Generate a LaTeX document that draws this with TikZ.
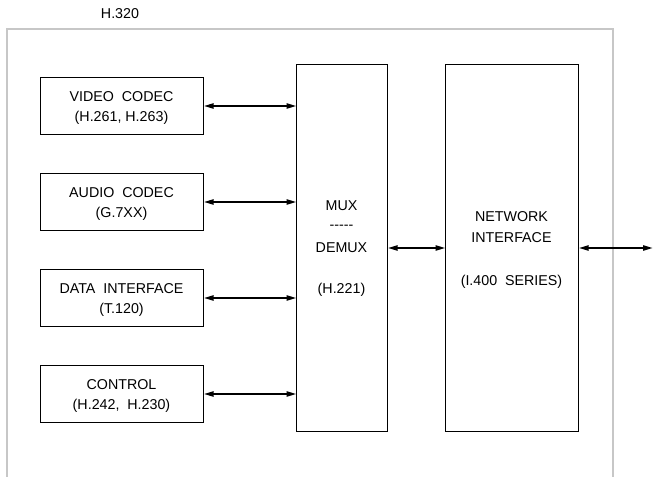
\documentclass[tikz,border=0pt]{standalone}
\usepackage{fontspec}
\setmainfont{Liberation Sans}
\usetikzlibrary{arrows.meta}
\begin{document}
\begin{tikzpicture}[x=0.75pt,y=-0.75pt,
  blk/.style={draw=black,line width=0.9pt,inner sep=0pt,anchor=north west},
  lbl/.style={font=\fontsize{10.7}{12}\selectfont,inner sep=0pt},
  conn/.style={line width=0.9pt,{Triangle[length=7pt,width=4pt]}-{Triangle[length=7pt,width=4pt]}}]
\useasboundingbox (0,0) rectangle (653,477);
\fill[white] (0,0) rectangle (653,477);
\draw[draw=black!22,line width=0.8pt] (7,477) -- (7,29) -- (613,29) -- (613,477);
\node[lbl] (title) at (120,14) {H.320};
% left boxes
\node[blk,minimum width=163*0.75pt,minimum height=57*0.75pt] (video) at (40,77) {};
\node[blk,minimum width=163*0.75pt,minimum height=57*0.75pt] (audio) at (40,173) {};
\node[blk,minimum width=163*0.75pt,minimum height=57*0.75pt] (data) at (40,269) {};
\node[blk,minimum width=163*0.75pt,minimum height=57*0.75pt] (ctrl) at (40,365) {};
\node[lbl] (v1) at (121.5,97) {VIDEO\ \ CODEC};
\node[lbl] (v2) at (121.5,118) {(H.261, H.263)};
\node[lbl] (a1) at (121.5,193) {AUDIO\ \ CODEC};
\node[lbl] (a2) at (121.5,214) {(G.7XX)};
\node[lbl] (d1) at (121.5,289) {DATA\ \ INTERFACE};
\node[lbl] (d2) at (121.5,310) {(T.120)};
\node[lbl] (c1) at (121.5,385) {CONTROL};
\node[lbl] (c2) at (121.5,406) {(H.242,\ \ H.230)};
% mux
\node[blk,minimum width=91*0.75pt,minimum height=367*0.75pt] (mux) at (296,64) {};
\node[lbl] (m1) at (341.5,206) {MUX};
\node[lbl] (m2) at (341.5,227) {-{}-{}-{}-{}-};
\node[lbl] (m3) at (341.5,248) {DEMUX};
\node[lbl] (m4) at (341.5,290) {(H.221)};
% network
\node[blk,minimum width=133*0.75pt,minimum height=367*0.75pt] (net) at (445,64) {};
\node[lbl] (n1) at (511.5,217) {NETWORK};
\node[lbl] (n2) at (511.5,238) {INTERFACE};
\node[lbl] (n3) at (511.5,282) {(I.400\ \ SERIES)};
% connectors
\draw[conn] (video.east |- 0,106) -- (mux.west |- 0,106);
\draw[conn] (audio.east |- 0,202) -- (mux.west |- 0,202);
\draw[conn] (data.east |- 0,298) -- (mux.west |- 0,298);
\draw[conn] (ctrl.east |- 0,394) -- (mux.west |- 0,394);
\draw[conn] (mux.east |- 0,248) -- (net.west |- 0,248);
\coordinate (ext) at (652.5,248);
\draw[conn] (net.east |- 0,248) -- (ext);
\end{tikzpicture}
\end{document}
